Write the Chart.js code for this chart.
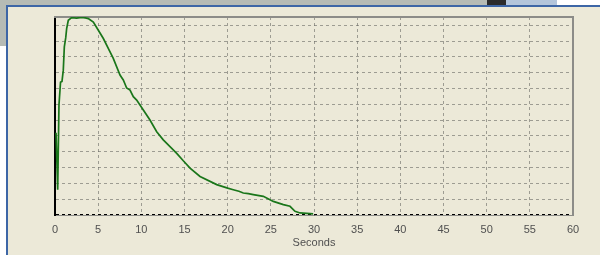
<!DOCTYPE html>
<html>
<head>
<meta charset="utf-8">
<script src="https://cdn.jsdelivr.net/npm/chart.js@4/dist/chart.umd.min.js"></script>
<style>
  body { margin: 0; width: 600px; height: 255px; overflow: hidden; background: #ece9d8; position: relative; }
  .blk { position: absolute; }
  canvas { position: absolute; left: 0; top: 0; }
</style>
</head>
<body>
<div class="blk" style="left:0;top:0;width:600px;height:5px;background:#b6bbb5"></div>
<div class="blk" style="left:487px;top:0;width:19px;height:5px;background:#2b2b2b"></div>
<div class="blk" style="left:506px;top:0;width:51px;height:5px;background:#b3c5db"></div>
<div class="blk" style="left:557px;top:0;width:43px;height:5px;background:#ffffff"></div>
<div class="blk" style="left:0;top:0;width:7px;height:46px;background:#b6bbb5"></div>
<div class="blk" style="left:0;top:46px;width:6px;height:209px;background:#ffffff"></div>
<div class="blk" style="left:7px;top:5px;width:593px;height:2px;background:#3d66a6"></div>
<div class="blk" style="left:6px;top:5px;width:2px;height:250px;background:#3d66a6"></div>
<canvas id="chart1" width="600" height="255"></canvas>
<script>
// time axis (s) and trace level (in grid divisions)
const seconds = [0.12, 0.31, 0.46, 0.64, 0.81, 0.96, 1.08, 1.24, 1.35, 1.54, 1.93, 2.5, 3.1, 3.5, 3.86,
  4.44, 5.02, 5.6, 6.17, 6.75, 7.53, 7.91, 8.3, 8.69, 9.07, 9.46, 10.23, 11.0, 11.78, 12.54, 13.32,
  14.1, 14.86, 15.64, 16.8, 18.73, 20.0, 20.65, 21.3, 21.81, 22.4, 22.97, 24.13, 25.29, 26.45,
  27.22, 27.8, 28.38, 29.54, 29.9];
const level = [5.2, 1.6, 6.96, 8.4, 8.45, 9.16, 10.63, 11.2, 11.79, 12.31, 12.48, 12.45, 12.5, 12.46, 12.42,
  12.2, 11.68, 11.16, 10.53, 9.9, 8.85, 8.54, 8.03, 7.9, 7.48, 7.27, 6.64, 6.01, 5.27, 4.75, 4.33,
  3.9, 3.43, 2.97, 2.44, 1.92, 1.7, 1.6, 1.5, 1.39, 1.35, 1.29, 1.18, 0.86, 0.66,
  0.55, 0.23, 0.13, 0.09, 0.07];

const X_MIN = 0;
const X_MAX = 60;
const X_STEP = 5;
const Y_MAX = 12.52;
const X_TITLE = 'Seconds';

const GRID = 'rgba(105,105,100,0.6)';
const TICK_FONT = { family: 'Liberation Sans', size: 11 };

let chart1 = null;

function drawChart() {
  const ctx1 = document.getElementById('chart1').getContext('2d');
  chart1 = new Chart(ctx1, {
    type: 'line',
    data: {
      datasets: [
        {
          data: seconds.map((s, i) => ({ x: s, y: level[i] })),
          borderColor: '#1a761a',
          borderWidth: 1.7,
          pointRadius: 0,
          tension: 0,
          fill: false,
        },
      ],
    },
    options: {
      responsive: false,
      animation: false,
      devicePixelRatio: 1,
      layout: { padding: { left: 55, right: 27, top: 17, bottom: 0 } },
      plugins: { legend: { display: false }, tooltip: { enabled: false } },
      scales: {
        x: {
          type: 'linear',
          min: X_MIN,
          max: X_MAX,
          afterFit: (scale) => { scale.height = 40; },
          ticks: { stepSize: X_STEP, padding: 8, color: '#505050', font: TICK_FONT, maxRotation: 0 },
          grid: { color: GRID, drawTicks: false, lineWidth: 1 },
          // in v4 border.dash dashes the grid lines, the axis line stays solid
          border: { color: '#8c8c88', width: 1, dash: [3, 3] },
          title: { display: true, text: X_TITLE, color: '#505050', font: TICK_FONT, padding: { top: 0, bottom: 5 } },
        },
        y: {
          type: 'linear',
          min: 0,
          max: Y_MAX,
          afterFit: (scale) => { scale.width = 0; },
          ticks: { display: false, stepSize: 1, includeBounds: false },
          grid: {
            color: (c) => (c.tick && c.tick.value === 0 ? '#000' : GRID),
            lineWidth: (c) => (c.tick && c.tick.value === 0 ? 2 : 1),
            drawTicks: false,
          },
          border: { color: '#000', width: 2, dash: [3, 3] },
        },
        xTop: {
          type: 'linear',
          position: 'top',
          afterFit: (scale) => { scale.height = 0; },
          ticks: { display: false },
          grid: { display: false, drawTicks: false },
          border: { color: '#8c8c88', width: 2 },
        },
        yRight: {
          type: 'linear',
          position: 'right',
          afterFit: (scale) => { scale.width = 0; },
          ticks: { display: false },
          grid: { display: false, drawTicks: false },
          border: { color: '#8c8c88', width: 2 },
        },
      },
    },
  });
}

drawChart();
</script>
</body>
</html>
